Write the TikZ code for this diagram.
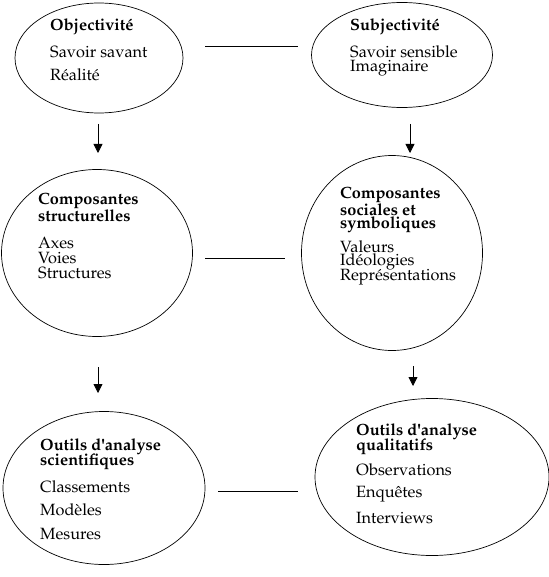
\documentclass[tikz,border=0pt]{standalone}
\usepackage[T1]{fontenc}
\usepackage{mathpazo}
\usepackage{textcomp}
\usetikzlibrary{shapes.geometric,arrows.meta}
\begin{document}
\begin{tikzpicture}[x=1pt,y=-1pt,
  oval/.style={draw,ellipse,line width=0.7pt,inner sep=0pt},
  txt/.style={anchor=west,inner sep=0pt,font=\fontsize{16.3}{17}\selectfont},
  hd/.style={anchor=west,inner sep=0pt,font=\fontsize{16.3}{17}\selectfont\bfseries},
  link/.style={line width=0.8pt},
  down/.style={line width=0.8pt,-{Triangle[length=9pt,width=9pt]}}]
\useasboundingbox (0,0) rectangle (548,577);
% ellipses
\node[oval,minimum width=168pt,minimum height=110pt] (e1) at (99,58) {};
\node[oval,minimum width=181pt,minimum height=105pt] (e2) at (402,55) {};
\node[oval,minimum width=191pt,minimum height=167pt] (e3) at (97,253) {};
\node[oval,minimum width=181pt,minimum height=195pt] (e4) at (392,253) {};
\node[oval,minimum width=202pt,minimum height=153pt] (e5) at (104,488) {};
\node[oval,minimum width=234pt,minimum height=157pt] (e6) at (432,477) {};
% connector ends
\coordinate (h1a) at (205,46); \coordinate (h1b) at (298,46);
\coordinate (h2a) at (205,258); \coordinate (h2b) at (285,258);
\coordinate (h3a) at (218,491); \coordinate (h3b) at (298,491);
\coordinate (a1s) at (98,124); \coordinate (a1e) at (98,153);
\coordinate (a2s) at (410,124); \coordinate (a2e) at (410,153);
\coordinate (a3s) at (98,367); \coordinate (a3e) at (98,393);
\coordinate (a4s) at (413,366); \coordinate (a4e) at (413,386);
\draw[link] (h1a) -- (h1b);
\draw[link] (h2a) -- (h2b);
\draw[link] (h3a) -- (h3b);
\draw[down] (a1s) -- (a1e);
\draw[down] (a2s) -- (a2e);
\draw[down] (a3s) -- (a3e);
\draw[down] (a4s) -- (a4e);
% texts ellipse 1
\node[hd] (t11) at (50,27) {Objectivité};
\node[txt] (t12) at (50,52) {Savoir savant};
\node[txt] (t13) at (50,75) {Réalité};
% ellipse 2
\node[hd] (t21) at (350,27) {Subjectivité};
\node[txt] (t22) at (350,52) {Savoir sensible};
\node[txt] (t23) at (350,68) {Imaginaire};
% ellipse 3
\node[hd] (t31) at (38,201) {Composantes};
\node[hd] (t32) at (38,216) {structurelles};
\node[txt] (t33) at (38,243) {Axes};
\node[txt] (t34) at (38,258) {Voies};
\node[txt] (t35) at (38,273) {Structures};
% ellipse 4
\node[hd] (t41) at (340,195) {Composantes};
\node[hd] (t42) at (340,210) {sociales et};
\node[hd] (t43) at (340,225) {symboliques};
\node[txt] (t44) at (340,247) {Valeurs};
\node[txt] (t45) at (340,262) {Idéologies};
\node[txt] (t46) at (340,277) {Représentations};
% ellipse 5
\node[hd] (t51) at (40,447) {Outils d\textquotesingle analyse};
\node[hd] (t52) at (40,462) {scientifiques};
\node[txt] (t53) at (40,487) {Classements};
\node[txt] (t54) at (40,510) {Modèles};
\node[txt] (t55) at (40,534) {Mesures};
% ellipse 6
\node[hd] (t61) at (356,432) {Outils d\textquotesingle analyse};
\node[hd] (t62) at (356,447) {qualitatifs};
\node[txt] (t63) at (356,470) {Observations};
\node[txt] (t64) at (356,494) {Enquêtes};
\node[txt] (t65) at (356,518) {Interviews};
\end{tikzpicture}
\end{document}
